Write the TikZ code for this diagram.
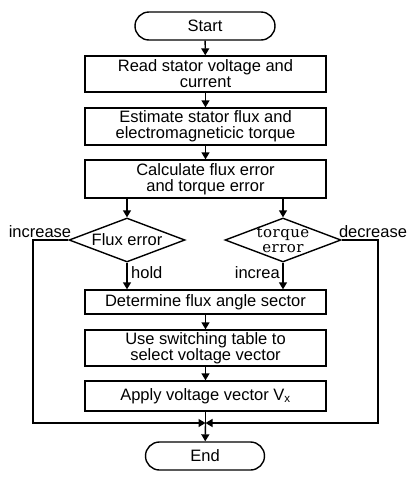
\documentclass[tikz,border=0pt]{standalone}
\usepackage{fontspec}
\setmainfont{Liberation Sans}
\newfontfamily\dserif[LetterSpace=3]{DejaVu Serif}
\usetikzlibrary{shapes.geometric,shapes.misc,arrows.meta}
\begin{document}
\begin{tikzpicture}[x=1pt,y=-1pt,
  every node/.style={font=\fontsize{16.5}{16}\selectfont},
  box/.style={draw,line width=1.4pt,minimum width=241pt,align=center,inner sep=0pt},
  term/.style={draw,line width=1.4pt,rounded rectangle,minimum height=28pt,inner sep=0pt},
  dia/.style={draw,line width=1.4pt,diamond,aspect=2.6,minimum width=116pt,minimum height=44pt,inner sep=0pt,align=center},
  arr/.style={line width=1.4pt,-{Triangle[length=7pt,width=8pt]}},
  ln/.style={line width=1.4pt},
  lbl/.style={inner sep=0pt}]
\useasboundingbox (0,0) rectangle (414,480);
\node[term,minimum width=140pt] (start) at (205,26) {Start};
\node[box,minimum height=36pt] (b1) at (205.5,74) {Read stator voltage and\\current};
\node[box,minimum height=37pt] (b2) at (205.5,126.5) {Estimate stator flux and\\electromagneticic torque};
\node[box,minimum height=38pt] (b3) at (205.5,179) {Calculate flux error\\and torque error};
\node[dia] (d1) at (127,240) {Flux error};
\node[dia] (d2) at (283,240) {};
\node[align=center,inner sep=0pt,font=\dserif\fontsize{15}{15}\selectfont] (d2t) at (d2.center) {torque\\error};
\node[box,minimum height=24pt] (b4) at (205.5,302) {Determine flux angle sector};
\node[box,minimum height=36pt] (b5) at (205.5,348) {Use switching table to\\select voltage vector};
\node[box,minimum height=30pt] (b6) at (205.5,396) {Apply voltage vector V\textsubscript{x}};
\node[term,minimum width=119pt] (end) at (205,456) {End};
\coordinate (J) at (205.5,423);
\coordinate (L) at (33,423);
\coordinate (R) at (378,423);
\draw[arr] (start) -- (b1);
\draw[arr] (b1) -- (b2);
\draw[arr] (b2) -- (b3);
\draw[arr] (b3.south -| d1.north) -- (d1.north);
\draw[arr] (b3.south -| d2.north) -- (d2.north);
\draw[arr] (d1.south) -- (b4.north -| d1.south);
\draw[arr] (d2.south) -- (b4.north -| d2.south);
\draw[arr] (b4) -- (b5);
\draw[arr] (b5) -- (b6);
\draw[ln] (b6.south) -- (J);
\draw[arr] (J) -- (end);
\draw[arr] (d1.west) -| (L) -- (J);
\draw[arr] (d2.east) -| (R) -- (J);
\node[lbl] (inc) at (40,232) {increase};
\node[lbl] (dec) at (373,232) {decrease};
\node[lbl,anchor=west] (hold) at (131,273) {hold};
\node[lbl,anchor=east] (incr) at (280,273) {increa};
\end{tikzpicture}
\end{document}
